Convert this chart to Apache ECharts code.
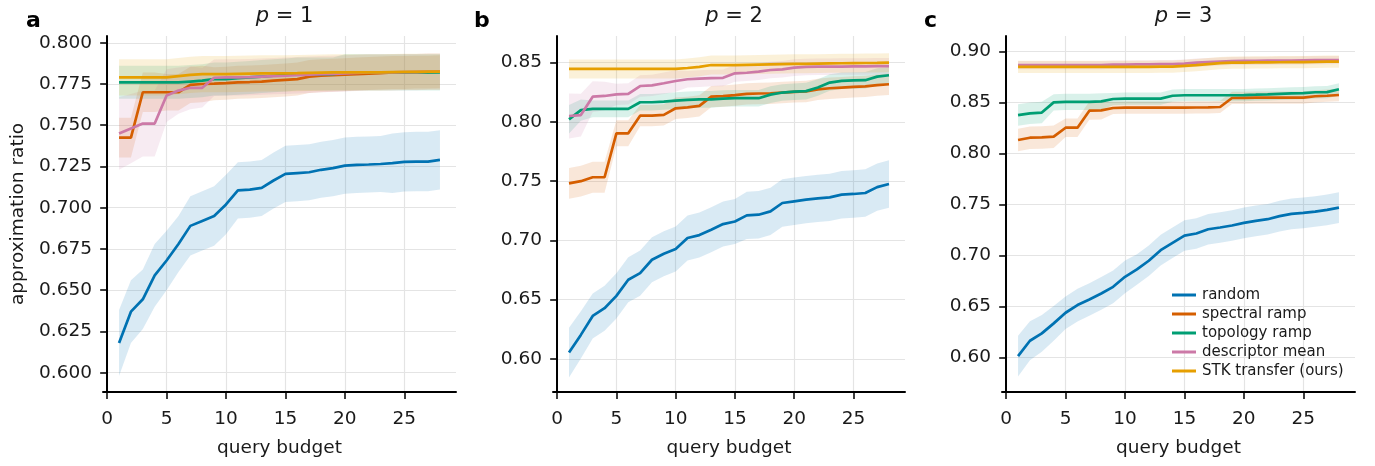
<!DOCTYPE html>
<html><head><meta charset="utf-8">
<script src="https://cdn.jsdelivr.net/npm/echarts@6/dist/echarts.min.js"></script>
<style>html,body{margin:0;padding:0;background:#fff}#c{width:1375px;height:466px}</style>
</head><body><div id="c"></div>
<script>
// ---------------- data ----------------
const budget = [1,2,3,4,5,6,7,8,9,10,11,12,13,14,15,16,17,18,19,20,21,22,23,24,25,26,27,28];
const methodNames = ['random','spectral ramp','topology ramp','descriptor mean','STK transfer (ours)'];
const panelTitles = ['1','2','3'];
const panelLetters = ['a','b','c'];
const xTicks = [0,5,10,15,20,25];
const yTicksA = [0.600,0.625,0.650,0.675,0.700,0.725,0.750,0.775,0.800];
const yTicksB = [0.60,0.65,0.70,0.75,0.80,0.85];
const yTicksC = [0.60,0.65,0.70,0.75,0.80,0.85,0.90];

// p = 1
const p1Random = [0.618,0.637,0.6445,0.659,0.668,0.678,0.689,0.692,0.695,0.702,0.7105,0.711,0.712,0.7165,0.7205,0.721,0.7215,0.723,0.724,0.7255,0.726,0.7262,0.7265,0.727,0.7278,0.728,0.728,0.729];
const p1RandomSd = [0.020,0.019,0.018,0.019,0.018,0.017,0.018,0.018,0.018,0.018,0.017,0.017,0.017,0.017,0.017,0.017,0.017,0.017,0.017,0.017,0.017,0.017,0.017,0.018,0.018,0.018,0.018,0.018];
const p1Spectral = [0.7425,0.7425,0.770,0.770,0.770,0.770,0.7745,0.775,0.7752,0.7755,0.776,0.7762,0.7765,0.777,0.7775,0.778,0.7795,0.780,0.7803,0.7806,0.781,0.7813,0.7816,0.782,0.782,0.7822,0.7822,0.7825];
const p1SpectralSd = [0.012,0.012,0.012,0.012,0.011,0.011,0.011,0.011,0.010,0.010,0.010,0.010,0.010,0.010,0.010,0.010,0.010,0.010,0.010,0.010,0.010,0.010,0.010,0.010,0.010,0.010,0.010,0.010];
const p1Topology = [0.776,0.776,0.776,0.776,0.776,0.776,0.7765,0.777,0.778,0.778,0.7785,0.779,0.7795,0.780,0.7805,0.781,0.781,0.781,0.781,0.782,0.782,0.782,0.782,0.782,0.782,0.782,0.782,0.782];
const p1TopologySd = [0.010,0.010,0.010,0.010,0.010,0.010,0.010,0.010,0.010,0.010,0.010,0.010,0.010,0.010,0.010,0.010,0.010,0.010,0.010,0.011,0.011,0.011,0.011,0.011,0.011,0.011,0.011,0.011];
const p1Descriptor = [0.745,0.748,0.751,0.751,0.768,0.771,0.7727,0.7727,0.7788,0.779,0.779,0.7792,0.7795,0.7798,0.780,0.7803,0.7806,0.781,0.7812,0.7815,0.7817,0.782,0.782,0.782,0.7822,0.7822,0.7825,0.7825];
const p1DescriptorSd = [0.022,0.021,0.020,0.020,0.016,0.014,0.013,0.012,0.011,0.011,0.011,0.011,0.011,0.011,0.011,0.011,0.011,0.011,0.011,0.011,0.011,0.011,0.011,0.011,0.011,0.011,0.011,0.011];
const p1Stk = [0.779,0.779,0.779,0.779,0.779,0.7798,0.7805,0.781,0.781,0.781,0.7812,0.7813,0.7814,0.7815,0.7815,0.7816,0.7818,0.7819,0.782,0.782,0.782,0.782,0.7821,0.7822,0.7823,0.7824,0.7825,0.7825];
const p1StkSd = [0.011,0.011,0.011,0.011,0.011,0.011,0.011,0.011,0.011,0.011,0.011,0.011,0.011,0.011,0.011,0.011,0.011,0.011,0.011,0.011,0.011,0.011,0.011,0.011,0.011,0.011,0.011,0.011];

// p = 2
const p2Random = [0.6054,0.6203,0.6363,0.6428,0.6532,0.6668,0.6724,0.6837,0.6887,0.6927,0.702,0.7045,0.709,0.7138,0.716,0.7211,0.7217,0.7245,0.7316,0.733,0.7344,0.7355,0.7363,0.7386,0.7392,0.740,0.745,0.7476];
const p2RandomSd = [0.021,0.020,0.019,0.019,0.019,0.019,0.019,0.019,0.019,0.019,0.019,0.019,0.019,0.019,0.019,0.020,0.020,0.020,0.020,0.020,0.020,0.020,0.020,0.020,0.020,0.020,0.020,0.020];
const p2Spectral = [0.7482,0.750,0.7533,0.7533,0.7904,0.7904,0.8053,0.8053,0.806,0.8115,0.8123,0.8135,0.8213,0.8218,0.8226,0.8236,0.824,0.8242,0.8248,0.8254,0.8257,0.8275,0.8284,0.829,0.8296,0.830,0.831,0.8318];
const p2SpectralSd = [0.013,0.013,0.013,0.013,0.011,0.011,0.009,0.009,0.009,0.009,0.009,0.009,0.009,0.009,0.009,0.009,0.009,0.009,0.009,0.009,0.009,0.009,0.009,0.009,0.009,0.009,0.009,0.009];
const p2Topology = [0.8022,0.810,0.811,0.811,0.811,0.811,0.8166,0.8166,0.8172,0.818,0.8186,0.819,0.819,0.8197,0.820,0.820,0.820,0.823,0.8248,0.8255,0.826,0.829,0.8332,0.8347,0.835,0.8352,0.8382,0.8394];
const p2TopologySd = [0.012,0.009,0.007,0.007,0.007,0.007,0.007,0.007,0.007,0.007,0.007,0.007,0.007,0.007,0.007,0.007,0.007,0.007,0.007,0.007,0.007,0.007,0.007,0.007,0.007,0.007,0.007,0.007];
const p2Descriptor = [0.805,0.8058,0.8213,0.8219,0.8233,0.8236,0.8303,0.8308,0.8326,0.8345,0.836,0.8365,0.837,0.8372,0.841,0.8415,0.8424,0.8438,0.8444,0.8458,0.8464,0.8466,0.8466,0.8467,0.8468,0.8468,0.847,0.847];
const p2DescriptorSd = [0.019,0.018,0.013,0.012,0.009,0.009,0.009,0.009,0.009,0.009,0.007,0.007,0.007,0.007,0.007,0.007,0.007,0.007,0.007,0.007,0.007,0.007,0.007,0.007,0.007,0.007,0.007,0.007];
const p2Stk = [0.8447,0.8447,0.8447,0.8447,0.8447,0.8447,0.8447,0.8447,0.8447,0.8447,0.8455,0.8465,0.848,0.848,0.848,0.8482,0.8484,0.8486,0.8488,0.849,0.849,0.8492,0.8494,0.8495,0.8496,0.8497,0.8498,0.850];
const p2StkSd = [0.008,0.008,0.008,0.008,0.008,0.008,0.008,0.008,0.008,0.008,0.008,0.008,0.008,0.008,0.008,0.008,0.008,0.008,0.008,0.008,0.008,0.008,0.008,0.008,0.008,0.008,0.008,0.008];

// p = 3
const p3Random = [0.6016,0.6166,0.6238,0.6336,0.644,0.6515,0.657,0.6629,0.6694,0.6792,0.6864,0.6949,0.7053,0.7125,0.7196,0.7216,0.7258,0.7275,0.7294,0.732,0.734,0.7356,0.7386,0.7408,0.7418,0.7431,0.7447,0.747];
const p3RandomSd = [0.020,0.019,0.018,0.017,0.016,0.016,0.016,0.016,0.016,0.016,0.015,0.015,0.015,0.015,0.015,0.015,0.015,0.015,0.015,0.015,0.015,0.015,0.015,0.015,0.015,0.015,0.015,0.015];
const p3Spectral = [0.8132,0.8154,0.8157,0.8164,0.8252,0.8252,0.8419,0.8422,0.8445,0.8448,0.8448,0.8448,0.8448,0.8448,0.8448,0.845,0.8452,0.8455,0.8543,0.8545,0.8546,0.8546,0.8546,0.8546,0.8547,0.856,0.8565,0.8572];
const p3SpectralSd = [0.011,0.011,0.011,0.011,0.009,0.009,0.009,0.009,0.006,0.006,0.006,0.006,0.006,0.006,0.006,0.006,0.006,0.006,0.006,0.006,0.006,0.006,0.006,0.006,0.006,0.006,0.006,0.006];
const p3Topology = [0.8376,0.8393,0.840,0.850,0.8505,0.8505,0.8505,0.851,0.8533,0.8537,0.8537,0.8537,0.8537,0.8565,0.857,0.857,0.857,0.857,0.857,0.8572,0.8575,0.8579,0.8584,0.8589,0.859,0.8599,0.860,0.8628];
const p3TopologySd = [0.0105,0.0105,0.0105,0.008,0.008,0.008,0.008,0.008,0.006,0.006,0.006,0.006,0.006,0.006,0.006,0.006,0.006,0.006,0.006,0.006,0.006,0.006,0.006,0.006,0.006,0.006,0.006,0.006];
const p3Descriptor = [0.8865,0.8865,0.8865,0.8865,0.8865,0.8865,0.8865,0.8865,0.887,0.887,0.8872,0.8873,0.8874,0.8875,0.888,0.889,0.8895,0.890,0.8905,0.8906,0.8907,0.8908,0.8909,0.891,0.8912,0.8913,0.8914,0.8915];
const p3DescriptorSd = [0.004,0.004,0.004,0.004,0.004,0.004,0.004,0.004,0.004,0.004,0.004,0.004,0.004,0.004,0.004,0.004,0.004,0.004,0.004,0.004,0.004,0.004,0.004,0.004,0.004,0.004,0.004,0.004];
const p3Stk = [0.8847,0.8847,0.8847,0.8847,0.8847,0.8847,0.8847,0.8847,0.8847,0.8847,0.8847,0.8847,0.885,0.885,0.8858,0.8865,0.8875,0.8885,0.889,0.889,0.8891,0.8892,0.8893,0.8894,0.8895,0.8897,0.8899,0.890];
const p3StkSd = [0.006,0.006,0.006,0.006,0.006,0.006,0.006,0.006,0.006,0.006,0.006,0.006,0.006,0.006,0.006,0.006,0.006,0.006,0.006,0.006,0.006,0.006,0.006,0.006,0.006,0.006,0.006,0.006];

// ---------------- styling / layout ----------------
const colors = ['#0072B2','#D55E00','#009E73','#CC79A7','#E69F00'];
const FONT = 'DejaVu Sans';
const TXT = '#1a1a1a';
const grids = [
  {left:103, top:36, width:353, height:356},
  {left:553, top:36, width:352, height:356},
  {left:1002, top:36, width:353, height:356}
];
const yRanges = [[0.5883,0.8041],[0.5721,0.8725],[0.5664,0.9150]];
const yTickSets = [yTicksA, yTicksB, yTicksC];
const yDecimals = [3,2,2];
const panels = [
  {means:[p1Random,p1Spectral,p1Topology,p1Descriptor,p1Stk], sds:[p1RandomSd,p1SpectralSd,p1TopologySd,p1DescriptorSd,p1StkSd]},
  {means:[p2Random,p2Spectral,p2Topology,p2Descriptor,p2Stk], sds:[p2RandomSd,p2SpectralSd,p2TopologySd,p2DescriptorSd,p2StkSd]},
  {means:[p3Random,p3Spectral,p3Topology,p3Descriptor,p3Stk], sds:[p3RandomSd,p3SpectralSd,p3TopologySd,p3DescriptorSd,p3StkSd]}
];

const xAxes = [], yAxes = [], series = [], titles = [];
grids.forEach((g, k) => {
  g.outerBoundsMode = 'none';
  xAxes.push({
    type:'value', gridIndex:k, min:-0.35, max:29.35,
    name: 'query budget', nameLocation:'middle', nameGap:47,
    nameTextStyle:{fontFamily:FONT, fontSize:18.5, color:TXT},
    axisLine:{show:true, lineStyle:{color:'#000', width:2}},
    axisTick:{show:true, inside:false, length:7, lineStyle:{color:'#000', width:1.5}, customValues:xTicks},
    axisLabel:{show:true, margin:18, fontFamily:FONT, fontSize:18.5, color:TXT, customValues:xTicks, formatter: v => String(v)},
    splitLine:{show:true, lineStyle:{color:'#e4e4e4', width:1.2}}
  });
  const dec = yDecimals[k];
  yAxes.push({
    type:'value', gridIndex:k, min:yRanges[k][0], max:yRanges[k][1],
    name: k === 0 ? 'approximation ratio' : '', nameLocation:'middle', nameGap:75,
    nameTextStyle:{fontFamily:FONT, fontSize:18.5, color:TXT},
    axisLine:{show:true, lineStyle:{color:'#000', width:2}},
    axisTick:{show:true, inside:false, length:7, lineStyle:{color:'#000', width:1.5}, customValues:yTickSets[k]},
    axisLabel:{show:true, margin:11, fontFamily:FONT, fontSize:18.5, color:TXT, customValues:yTickSets[k], formatter: v => Number(v).toFixed(dec)},
    splitLine:{show:true, lineStyle:{color:'#e4e4e4', width:1.2}}
  });
  const cx = g.left + g.width / 2;
  titles.push({
    text:'{i|p} = ' + panelTitles[k], left:cx, top:1, textAlign:'center',
    textStyle:{fontFamily:FONT, fontSize:21, fontWeight:'normal', color:TXT,
      rich:{i:{fontFamily:FONT, fontSize:21, fontStyle:'italic', color:TXT}}}
  });
  titles.push({
    text: panelLetters[k], left: [21, 469, 919][k], top:5,
    textStyle:{fontFamily:FONT, fontSize:22, fontWeight:'bold', color:'#000'}
  });
  const P = panels[k];
  P.means.forEach((m, s) => {
    const sd = P.sds[s];
    const lo = m.map((v, i) => v - sd[i]);
    const hi = m.map((v, i) => v + sd[i]);
    series.push({
      type:'line', name:methodNames[s], xAxisIndex:k, yAxisIndex:k,
      data: budget.map((x, i) => [x, m[i]]),
      showSymbol:false, symbol:'none', silent:true, animation:false,
      lineStyle:{color:colors[s], width:2.7}, itemStyle:{color:colors[s]}, z:2
    });
    series.push({
      type:'custom', name:methodNames[s] + ' band', xAxisIndex:k, yAxisIndex:k,
      silent:true, animation:false, z:2,
      data: budget.map((x, i) => [x, lo[i], hi[i]]),
      encode:{x:0, y:[1,2]},
      renderItem: (params, api) => {
        if (params.dataIndex !== 0) return;
        const pts = [];
        for (let i = 0; i < budget.length; i++) pts.push(api.coord([budget[i], lo[i]]));
        for (let i = budget.length - 1; i >= 0; i--) pts.push(api.coord([budget[i], hi[i]]));
        return {type:'polygon', shape:{points:pts}, style:{fill:colors[s], opacity:0.15}};
      }
    });
  });
});

const chart = echarts.init(document.getElementById('c'), null, {renderer:'canvas'});
chart.setOption({
  backgroundColor:'#fff',
  animation:false,
  title: titles,
  grid: grids,
  xAxis: xAxes,
  yAxis: yAxes,
  legend: {
    show:true, orient:'vertical', left:1167, top:282, itemGap:3,
    itemWidth:24, itemHeight:3, icon:'rect',
    data: methodNames,
    selectedMode:false,
    textStyle:{fontFamily:FONT, fontSize:15, color:TXT, lineHeight:16, padding:[0,0,0,1]}
  },
  series: series
});
</script>
</body></html>
